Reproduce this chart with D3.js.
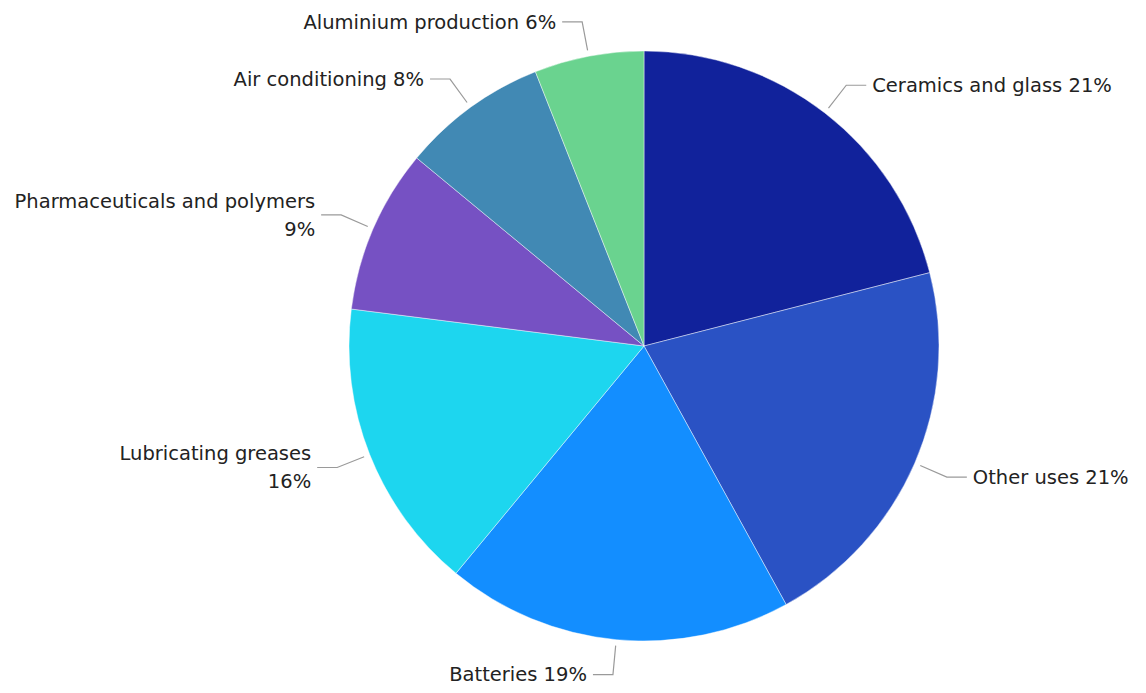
<!DOCTYPE html>
<html>
<head>
<meta charset="utf-8">
<script src="https://cdn.jsdelivr.net/npm/d3@7"></script>
<style>
  html, body { margin: 0; padding: 0; background: #fff; }
  svg { display: block; }
  .label { font-family: "DejaVu Sans", Verdana, sans-serif; font-size: 19.5px; fill: #222; }
</style>
</head>
<body>
<svg id="chart" width="1146" height="693"></svg>
<script>
// Lithium end uses, share of total (%)
const categories = [
  "Ceramics and glass",
  "Other uses",
  "Batteries",
  "Lubricating greases",
  "Pharmaceuticals and polymers",
  "Air conditioning",
  "Aluminium production"
];
const shares = [21, 21, 19, 16, 9, 8, 6];
// Categories whose label is broken onto two lines
const wrapped = ["Lubricating greases", "Pharmaceuticals and polymers"];
const colors = ["#11229B", "#2A52C4", "#138EFF", "#1DD6EF", "#7651C3", "#4189B4", "#6AD38F"];

const W = 1146, H = 693;
const cx = 644, cy = 346, R = 295;

const svg = d3.select("#chart");
const g = svg.append("g").attr("transform", `translate(${cx},${cy})`);

const data = categories.map((c, i) => ({ name: c, value: shares[i], color: colors[i] }));

const pie = d3.pie().value(d => d.value).sort(null);
const arc = d3.arc().innerRadius(0).outerRadius(R);
const arcs = pie(data);

g.selectAll("path.slice")
  .data(arcs)
  .join("path")
  .attr("class", "slice")
  .attr("d", arc)
  .attr("fill", d => d.data.color)
  .attr("stroke", "rgba(255,255,255,0.55)")
  .attr("stroke-width", 0.8);

const r0 = R + 6, r1 = R + 35, hLen = 20, gap = 6;

function polar(r, a) { return [r * Math.sin(a), -r * Math.cos(a)]; }

arcs.forEach(d => {
  const a = (d.startAngle + d.endAngle) / 2;
  const right = Math.sin(a) >= 0;
  const p0 = polar(r0, a), p1 = polar(r1, a);
  const p2 = [p1[0] + (right ? hLen : -hLen), p1[1]];

  g.append("path")
    .attr("d", d3.line()([p0, p1, p2]))
    .attr("fill", "none")
    .attr("stroke", "#9a9a9a")
    .attr("stroke-width", 1.2);

  const lines = wrapped.includes(d.data.name)
    ? [d.data.name, d.data.value + "%"]
    : [d.data.name + " " + d.data.value + "%"];
  const lh = 28;
  const t = g.append("text")
    .attr("class", "label")
    .attr("text-anchor", right ? "start" : "end")
    .attr("x", p2[0] + (right ? gap : -gap))
    .attr("y", p2[1]);
  lines.forEach((s, i) => {
    t.append("tspan")
      .attr("x", p2[0] + (right ? gap : -gap))
      .attr("y", p2[1] + (i - (lines.length - 1) / 2) * lh)
      .attr("dy", "0.35em")
      .text(s);
  });
});
</script>
</body>
</html>
